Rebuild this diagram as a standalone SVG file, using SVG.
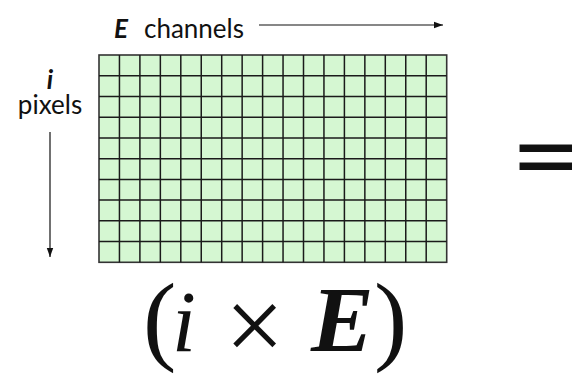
<svg xmlns="http://www.w3.org/2000/svg" width="572" height="375" viewBox="0 0 572 375">
<defs>
<style>
.lbl{font-family:Lato,"Liberation Sans",sans-serif;font-size:26px;fill:#111}
.bi{font-weight:bold;font-style:italic}
.math{font-family:"Liberation Serif","DejaVu Serif",serif;fill:#111}
.gl{stroke:#1a1a1a;stroke-width:1.5}
.arr{stroke:#111;stroke-width:1.2;fill:none}
</style>
<marker id="ah" markerWidth="10" markerHeight="8" refX="9" refY="4" orient="auto" markerUnits="userSpaceOnUse">
<path d="M0,0.8 L9,4 L0,7.2 Z" fill="#111"/>
</marker>
</defs>
<rect width="572" height="375" fill="#fff"/>
<g id="matrix">
<rect x="99" y="55" width="347.7" height="207.3" fill="#d5f7d2" stroke="#333" stroke-width="1.6"/>
<g class="gl">
<line x1="119.45" y1="55" x2="119.45" y2="262.3"/>
<line x1="139.9" y1="55" x2="139.9" y2="262.3"/>
<line x1="160.35" y1="55" x2="160.35" y2="262.3"/>
<line x1="180.8" y1="55" x2="180.8" y2="262.3"/>
<line x1="201.25" y1="55" x2="201.25" y2="262.3"/>
<line x1="221.7" y1="55" x2="221.7" y2="262.3"/>
<line x1="242.15" y1="55" x2="242.15" y2="262.3"/>
<line x1="262.6" y1="55" x2="262.6" y2="262.3"/>
<line x1="283.05" y1="55" x2="283.05" y2="262.3"/>
<line x1="303.5" y1="55" x2="303.5" y2="262.3"/>
<line x1="323.95" y1="55" x2="323.95" y2="262.3"/>
<line x1="344.4" y1="55" x2="344.4" y2="262.3"/>
<line x1="364.85" y1="55" x2="364.85" y2="262.3"/>
<line x1="385.3" y1="55" x2="385.3" y2="262.3"/>
<line x1="405.75" y1="55" x2="405.75" y2="262.3"/>
<line x1="426.2" y1="55" x2="426.2" y2="262.3"/>
<line x1="99" y1="75.73" x2="446.7" y2="75.73"/>
<line x1="99" y1="96.46" x2="446.7" y2="96.46"/>
<line x1="99" y1="117.19" x2="446.7" y2="117.19"/>
<line x1="99" y1="137.92" x2="446.7" y2="137.92"/>
<line x1="99" y1="158.65" x2="446.7" y2="158.65"/>
<line x1="99" y1="179.38" x2="446.7" y2="179.38"/>
<line x1="99" y1="200.11" x2="446.7" y2="200.11"/>
<line x1="99" y1="220.84" x2="446.7" y2="220.84"/>
<line x1="99" y1="241.57" x2="446.7" y2="241.57"/>
</g>
</g>
<g id="label-channels">
<text class="lbl" y="38"><tspan class="bi" x="114">E</tspan><tspan x="144">channels</tspan></text>
</g>
<g id="label-pixels">
<text class="lbl bi" x="50" y="89" text-anchor="middle">i</text>
<text class="lbl" x="50" y="114" text-anchor="middle">pixels</text>
</g>
<g id="connectors">
<line class="arr" x1="259" y1="25" x2="443" y2="25" marker-end="url(#ah)"/>
<line class="arr" x1="50" y1="132" x2="50" y2="257" marker-end="url(#ah)"/>
</g>
<g id="formula">
<text class="math" font-size="100" x="143" y="352">(</text>
<text class="math" font-size="86" font-style="italic" x="172" y="351">i</text>
<text class="math" font-size="105" x="225" y="361">×</text>
<text class="math" font-size="94" font-style="italic" font-weight="bold" x="311" y="351">E</text>
<text class="math" font-size="100" x="374" y="352">)</text>
</g>
<g id="equals">
<text x="510" y="186" font-family="DejaVu Sans,sans-serif" font-size="90" fill="#111">=</text>
</g>
</svg>
